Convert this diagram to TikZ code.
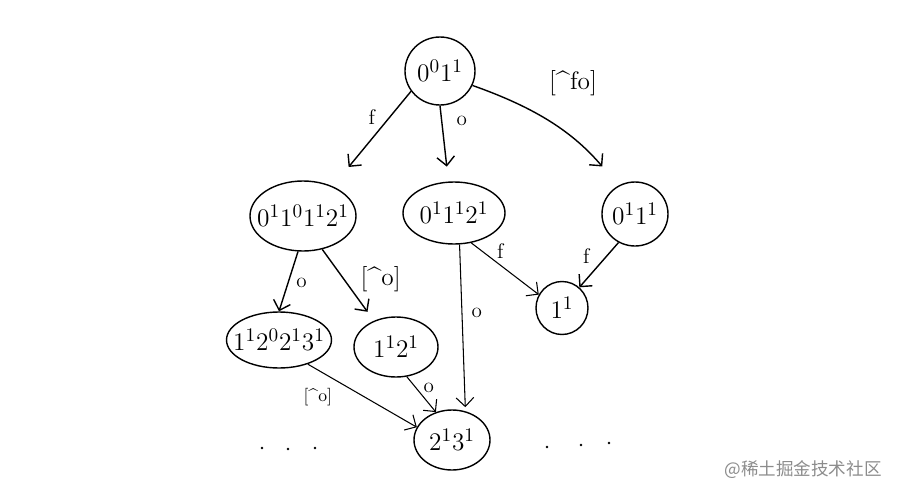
\documentclass[tikz,border=0pt]{standalone}
\usepackage{fontspec}
\usepackage{tikz}
\usetikzlibrary{shapes.geometric, arrows.meta}
\newfontfamily\cjk{Noto Sans CJK SC}

\begin{document}
\begin{tikzpicture}[x=0.02cm, y=-0.02cm, >={Straight Barb[length=5pt, width=10pt]},
  state/.style 2 args={ellipse, draw, thick, inner sep=-5pt,
    minimum width=#1*0.02cm, minimum height=#2*0.02cm, font=\fontsize{15.5}{18}\selectfont},
  lbl/.style={font=\large, inner sep=1pt}]
\useasboundingbox (0,0) rectangle (900,501);

% states
\node[state={70}{68}] (q0) at (440,71) {$0^0 1^1$};
\node[state={106}{70}] (q1) at (303,216) {$0^1 1^0 1^1 2^1$};
\node[state={102}{62}] (q2) at (454,213) {$0^1 1^1 2^1$};
\node[state={66}{64}] (q3) at (635,214) {$0^1 1^1$};
\node[state={52}{53}] (q4) at (562,308) {$1^1$};
\node[state={105}{56}] (q5) at (279,340) {$1^1 2^0 2^1 3^1$};
\node[state={84}{60}] (q6) at (396,347) {$1^1 2^1$};
\node[state={76}{60}] (q7) at (452,440) {$2^1 3^1$};

% transitions
\draw[thick, ->, shorten >=0.5cm] (q0.215) -- (q1.45) node[lbl, pos=.27, left=0.25cm] {f};
\draw[thick, ->, shorten >=0.3cm] (q0.south) -- (q2.100) node[lbl, pos=.2, right=0.25cm] {o};
\draw[thick, ->, shorten >=0.5cm] (q0.336) to[bend left=15]
  node[pos=.65, above=0.75cm, font=\Large] {[\textasciicircum fo]} (q3.120);
\draw[thick, ->] (q1.262) -- (q5.north) node[lbl, pos=.53, right=0.12cm] {o};
\draw[thick, ->, shorten >=0.22cm] (q1.300) -- (q6.130)
  node[pos=.42, right=0.2cm, font=\Large] {[\textasciicircum o]};
\draw[semithick, ->, shorten >=0.08cm] (q2.280) -- (q7.65) node[lbl, pos=.41, right=0.15cm] {o};
\draw[semithick, ->] (q2.300) -- (q4.150) node[lbl, pos=.35, above right] {f};
\draw[thick, ->] (q3.240) -- (q4.50) node[lbl, pos=.3, left=0.3cm] {f};
\draw[semithick, ->] (q5.320) -- (q7.160)
  node[pos=.28, below left, font=\normalsize] {[\textasciicircum o]};
\draw[semithick, ->] (q6.290) -- (q7.120) node[lbl, pos=.33, right=0.1cm] {o};

% more states
\foreach \x/\y in {262/448, 288/449, 315/448, 547/447, 581/445, 609/443}
  \fill (\x,\y) circle (1.3);

\node[text=black!45, font=\cjk\fontsize{10}{12}\selectfont] (wm) at (803,470) {@稀土掘金技术社区};
\end{tikzpicture}
\end{document}
